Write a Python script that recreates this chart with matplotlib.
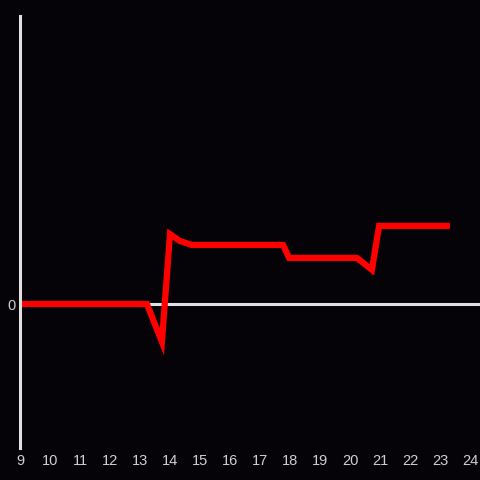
import matplotlib
matplotlib.use("Agg")
import matplotlib.pyplot as plt

x = [9, 13.23, 13.73, 14.0, 14.33, 14.73, 17.77, 17.97, 20.23, 20.73, 20.97, 23.33]
y = [0, 0, -1.05, 1.94, 1.75, 1.64, 1.64, 1.28, 1.28, 0.95, 2.17, 2.17]
xticks = list(range(9, 25))

plt.rcParams['font.family'] = ['Liberation Sans', 'DejaVu Sans']

bg = '#050308'
fig = plt.figure(figsize=(4.8, 4.8), dpi=100, facecolor=bg)
ax = fig.add_axes([20/480, 32/480, 460/480, 432/480], facecolor=bg)

ax.axhline(0, color='#e0e0e0', lw=2.2, zorder=1)
ax.plot(x, y, color='#ff0000', lw=4.5, solid_joinstyle='miter', solid_capstyle='butt', zorder=2)

ax.set_xlim(9, 24.333)
ax.set_ylim(-4, 8)
ax.set_xticks(xticks)
ax.set_xticklabels([str(t) for t in xticks])
ax.set_yticks([0])
ax.set_yticklabels(['0'])
ax.tick_params(length=0, colors='#d0d0d0', labelsize=10.5)
ax.tick_params(axis='x', pad=4)
ax.tick_params(axis='y', pad=3)

for s in ['top', 'right', 'bottom']:
    ax.spines[s].set_visible(False)
ax.spines['left'].set_color('#e0e0e0')
ax.spines['left'].set_linewidth(2.2)

fig.savefig("out.png", dpi=100, facecolor=bg)
